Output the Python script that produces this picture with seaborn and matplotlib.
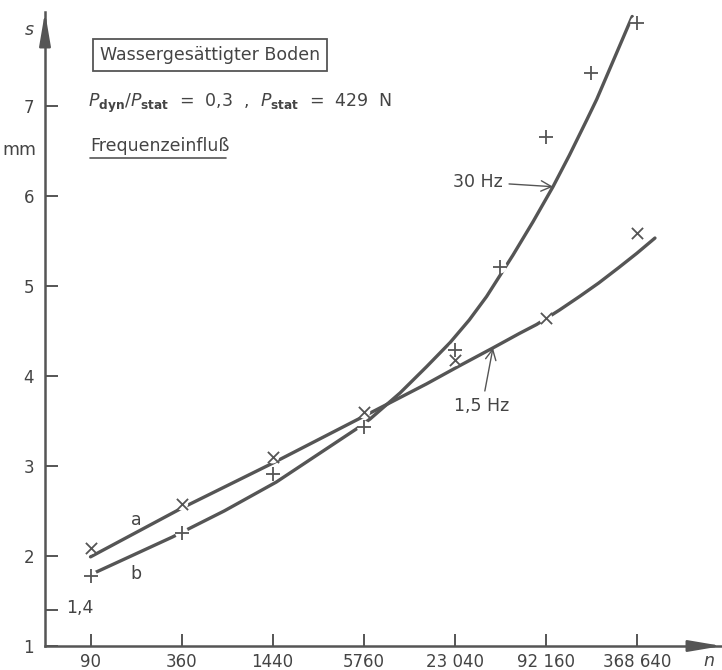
import matplotlib
matplotlib.use("Agg")
import matplotlib.pyplot as plt
import seaborn as sns
from matplotlib.lines import Line2D

# measured points (n = Lastwechselzahl, s = Setzung in mm)
n_ticks = [90, 360, 1440, 5760, 23040, 92160, 368640]
n_tick_labels = ["90", "360", "1440", "5760", "23 040", "92 160", "368 640"]
s_ticks = [1, 2, 3, 4, 5, 6, 7]

n_15hz = [90, 360, 1440, 5760, 23040, 92160, 368640]
s_15hz = [2.09, 2.58, 3.10, 3.60, 4.18, 4.64, 5.59]

n_30hz = [90, 360, 1440, 5760, 23040, 46080, 92160, 184320, 368640]
s_30hz = [1.78, 2.26, 2.91, 3.43, 4.29, 5.21, 6.65, 7.36, 7.92]

# drawn-in curves
n_curve_a = [90, 360, 1440, 5760, 14990, 24700, 41270, 61640, 80240,
             113500, 153900, 206200, 279400, 368640, 486400]
s_curve_a = [1.99, 2.53, 3.03, 3.55, 3.91, 4.11, 4.31, 4.47, 4.57,
             4.73, 4.88, 5.03, 5.20, 5.36, 5.53]

n_curve_b = [95, 313, 690, 1522, 5155, 6347, 10030, 14990, 21500, 28760, 37430,
             44190, 55940, 75900, 102960, 132200, 172000, 200300, 243200, 344000]
s_curve_b = [1.81, 2.21, 2.50, 2.82, 3.41, 3.52, 3.81, 4.10, 4.37, 4.62, 4.88,
             5.07, 5.34, 5.71, 6.10, 6.45, 6.84, 7.07, 7.40, 7.99]

INK = "#555555"
TXT = "#444444"
W, H = 722, 670


def px(x, y):
    return x / W, 1 - y / H


def main():
    sns.set_style("ticks")
    plt.rcParams["font.family"] = ["DejaVu Sans"]
    plt.rcParams["mathtext.fontset"] = "dejavusans"

    fig = plt.figure(figsize=(W / 100, H / 100), dpi=100)
    ax = fig.add_axes([45 / W, 24 / H, 677 / W, 634 / H])

    ax.set_xscale("log", base=4)

    # =========================
    # CURVES + MARKERS
    # =========================
    sns.lineplot(x=n_curve_a, y=s_curve_a, sort=False, ax=ax, color=INK, lw=2.4, zorder=2)
    sns.lineplot(x=n_curve_b, y=s_curve_b, sort=False, ax=ax, color=INK, lw=2.4, zorder=2)

    # small white gaps in the lines around the measured points
    for xs, ys in [(n_15hz, s_15hz), (n_30hz, s_30hz)]:
        sns.scatterplot(x=xs, y=ys, ax=ax, marker="o", s=90, color="white",
                        edgecolor="none", zorder=3)

    sns.scatterplot(x=n_15hz, y=s_15hz, ax=ax, marker="x", s=65, color=INK,
                    linewidth=1.3, zorder=4)
    sns.scatterplot(x=n_30hz, y=s_30hz, ax=ax, marker="+", s=100, color=INK,
                    linewidth=1.3, zorder=4)

    # =========================
    # AXES
    # =========================
    ax.set_xlim(45, 1.35e6)
    ax.set_ylim(1, 8.04)
    ax.set_xticks(n_ticks)
    ax.set_xticklabels(n_tick_labels)
    ax.xaxis.set_minor_locator(matplotlib.ticker.NullLocator())
    ax.set_yticks(s_ticks + [1.4])
    ax.set_yticklabels([str(v) for v in s_ticks] + [""])
    ax.tick_params(direction="in", length=9, width=1.4, color=INK,
                   labelcolor=TXT, labelsize=12)
    ax.tick_params(axis="y", pad=8)
    ax.tick_params(axis="x", pad=5)
    ax.set_xlabel("")
    ax.set_ylabel("")

    sns.despine(ax=ax)
    for side in ["left", "bottom"]:
        ax.spines[side].set_color(INK)
        ax.spines[side].set_linewidth(1.8)

    arrow = dict(arrowstyle="-|>,head_length=1.0,head_width=0.17", color=INK,
                 lw=1.8, mutation_scale=20, shrinkA=0, shrinkB=0)
    ax.annotate("", xy=(1.0, 0), xytext=(0.95, 0), xycoords="axes fraction",
                arrowprops=arrow, annotation_clip=False)
    ax.annotate("", xy=(0, 1.0), xytext=(0, 0.95), xycoords="axes fraction",
                arrowprops=arrow, annotation_clip=False)

    text_kw = dict(color=TXT, fontsize=12.5)
    fig.text(*px(29, 30), "s", style="italic", ha="center", va="center", **text_kw)
    fig.text(*px(19, 150), "mm", ha="center", va="center", **text_kw)
    fig.text(*px(709, 661), "n", style="italic", ha="center", va="center", **text_kw)
    fig.text(*px(66, 608), "1,4", ha="left", va="center", **text_kw)

    # =========================
    # ANNOTATIONS
    # =========================
    fig.text(*px(100, 55), "Wassergesättigter Boden", ha="left", va="center",
             bbox=dict(boxstyle="square,pad=0.4", fc="white", ec=INK, lw=1.3),
             **text_kw)
    fig.text(*px(88, 103),
             r"$P_{\mathbf{dyn}}/P_{\mathbf{stat}}$  =  0,3  ,  $P_{\mathbf{stat}}$  =  429  N",
             ha="left", va="center", **text_kw)
    fig.text(*px(90, 146), "Frequenzeinfluß", ha="left", va="center", **text_kw)
    x0, y0 = px(90, 158)
    x1, _ = px(226, 158)
    fig.add_artist(Line2D([x0, x1], [y0, y0], color=INK, lw=1.2))

    fig.text(*px(136, 520), "a", ha="center", va="center", **text_kw)
    fig.text(*px(136, 574), "b", ha="center", va="center", **text_kw)

    lead = dict(arrowstyle="->,head_length=0.6,head_width=0.3", color=INK, lw=1.0,
                shrinkA=2, shrinkB=0)
    ax.annotate("30 Hz", xy=(102960, 6.10), xytext=px(503, 182),
                textcoords="figure fraction", ha="right", va="center",
                arrowprops=lead, **text_kw)
    ax.annotate("1,5 Hz", xy=(41270, 4.31), xytext=px(482, 406),
                textcoords="figure fraction", ha="center", va="center",
                arrowprops=lead, **text_kw)

    fig.savefig("out.png", dpi=100, facecolor="white")
    plt.close(fig)


if __name__ == "__main__":
    main()
